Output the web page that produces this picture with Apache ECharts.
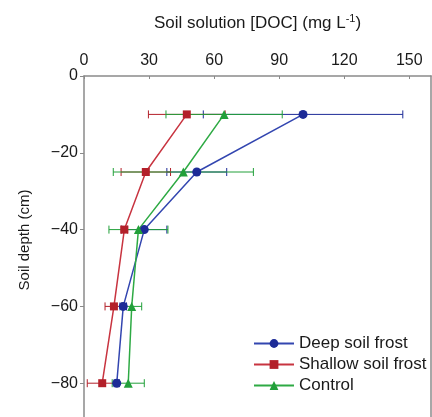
<!DOCTYPE html>
<html>
<head>
<meta charset="utf-8">
<script src="https://cdn.jsdelivr.net/npm/echarts@6/dist/echarts.min.js"></script>
<style>
  html, body { margin: 0; padding: 0; background: #fff; }
  #main { width: 432px; height: 417px; }
</style>
</head>
<body>
<div id="main"></div>
<script>
// depths (cm) and DOC means / standard errors (mg L-1)
var depths = [-10, -25, -40, -60, -80];
var deepMean = [101, 52, 27.8, 18.1, 15.1];
var deepErr = [46, 13.8, 10.4, 1.5, 1.2];
var shallowMean = [47.4, 28.5, 18.6, 13.8, 8.4];
var shallowErr = [17.7, 11.4, 1.5, 4.1, 6.9];
var controlMean = [64.6, 45.8, 25.1, 22.0, 20.4];
var controlErr = [26.8, 32.3, 13.6, 4.6, 7.4];
var xTicks = [0, 30, 60, 90, 120, 150];
var yTicks = [0, -20, -40, -60, -80];

var blue = '#1d2b97';
var red = '#b3202a';
var green = '#22a03a';

function pts(mean) {
  return mean.map(function (m, i) { return [m, depths[i]]; });
}
function errs(mean, err) {
  return mean.map(function (m, i) { return [m - err[i], m + err[i], depths[i]]; });
}

// horizontal error bar with caps
function errBar(color) {
  return function (params, api) {
    var a = api.coord([api.value(0), api.value(2)]);
    var b = api.coord([api.value(1), api.value(2)]);
    var h = 4;
    var st = { stroke: color, lineWidth: 1 };
    return {
      type: 'group',
      children: [
        { type: 'line', shape: { x1: a[0], y1: a[1], x2: b[0], y2: b[1] }, style: st },
        { type: 'line', shape: { x1: a[0], y1: a[1] - h, x2: a[0], y2: a[1] + h }, style: st },
        { type: 'line', shape: { x1: b[0], y1: b[1] - h, x2: b[0], y2: b[1] + h }, style: st }
      ]
    };
  };
}

var font = 'Liberation Sans, Arial, sans-serif';
var txt = '#1a1a1a';
var axisGray = '#8a8a8a';

var myChart = echarts.init(document.getElementById('main'));

var option = {
  animation: false,
  textStyle: { fontFamily: font },
  grid: { left: 84, top: 76, width: 347, height: 384, outerBoundsMode: 'none', containLabel: false },
  legend: {
    left: 248,
    top: 330,
    orient: 'vertical',
    itemWidth: 40,
    itemHeight: 11,
    itemGap: 4,
    textStyle: { fontFamily: font, fontSize: 17, color: txt },
    data: ['Deep soil frost', 'Shallow soil frost', 'Control']
  },
  xAxis: {
    type: 'value',
    position: 'top',
    min: 0,
    max: 160,
    interval: 30,
    name: '{a|Soil solution [DOC] (mg L}{s|-1}{a|)}',
    nameLocation: 'middle',
    nameGap: 43,
    nameTextStyle: {
      rich: {
        a: { fontFamily: font, fontSize: 17, color: txt, lineHeight: 20 },
        s: { fontFamily: font, fontSize: 11, color: txt, lineHeight: 20, verticalAlign: 'top', padding: [0, 0, 7, 0] }
      }
    },
    axisLine: { lineStyle: { color: axisGray, width: 1.5 } },
    axisTick: { inside: true, length: 3, lineStyle: { color: axisGray } },
    axisLabel: {
      fontSize: 16, color: txt, margin: 7, showMaxLabel: false,
      formatter: function (v) { return xTicks.indexOf(v) >= 0 ? v : ''; }
    },
    splitLine: { show: false }
  },
  yAxis: [{
    type: 'value',
    min: -100,
    max: 0,
    interval: 20,
    axisLine: { onZero: false, lineStyle: { color: axisGray, width: 1.5 } },
    axisTick: { length: 4, lineStyle: { color: axisGray } },
    axisLabel: {
      fontSize: 16, color: txt, margin: 6,
      formatter: function (v) {
        return yTicks.indexOf(v) >= 0 ? String(v).replace('-', '\u2212') : '';
      }
    },
    splitLine: { show: false }
  }, {
    type: 'value',
    position: 'right',
    min: -100,
    max: 0,
    interval: 20,
    axisLine: { show: true, onZero: false, lineStyle: { color: axisGray, width: 1.5 } },
    axisTick: { show: false },
    axisLabel: { show: false },
    splitLine: { show: false }
  }],
  graphic: [{
    type: 'text',
    rotation: Math.PI / 2,
    x: 25,
    y: 240,
    style: {
      text: 'Soil depth (cm)',
      font: '15px ' + font,
      fill: txt,
      textAlign: 'center',
      textVerticalAlign: 'middle'
    }
  }],
  series: [
    { type: 'custom', name: 'deep-err', renderItem: errBar(blue), data: errs(deepMean, deepErr), z: 1, silent: true },
    { type: 'custom', name: 'shallow-err', renderItem: errBar(red), data: errs(shallowMean, shallowErr), z: 1, silent: true },
    { type: 'custom', name: 'control-err', renderItem: errBar(green), data: errs(controlMean, controlErr), z: 1, silent: true },
    {
      type: 'line', name: 'Deep soil frost', data: pts(deepMean),
      symbol: 'circle', symbolSize: 9,
      itemStyle: { color: blue }, lineStyle: { color: '#3346b0', width: 1.5 }, z: 3
    },
    {
      type: 'line', name: 'Shallow soil frost', data: pts(shallowMean),
      symbol: 'rect', symbolSize: 8,
      itemStyle: { color: red }, lineStyle: { color: '#c83440', width: 1.5 }, z: 3
    },
    {
      type: 'line', name: 'Control', data: pts(controlMean),
      symbol: 'triangle', symbolSize: 9,
      itemStyle: { color: green }, lineStyle: { color: '#2eaa44', width: 1.5 }, z: 3
    }
  ]
};

option && myChart.setOption(option);
</script>
</body>
</html>
